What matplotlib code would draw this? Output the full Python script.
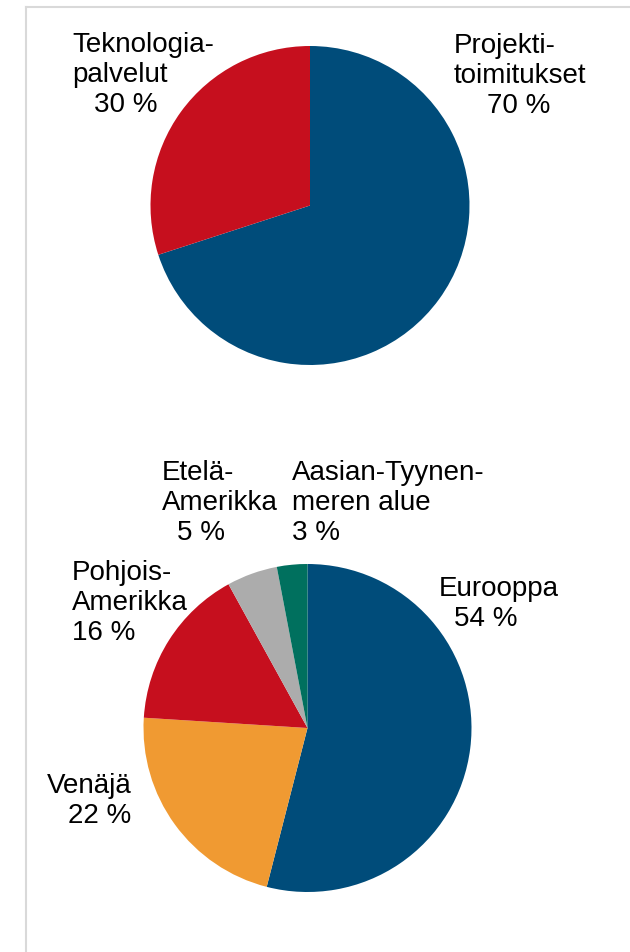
import matplotlib.pyplot as plt
from matplotlib.lines import Line2D

plt.rcParams['font.family'] = ['Liberation Sans', 'DejaVu Sans']

W, H = 630, 953

# top pie: business split
seg_names = ["Projekti-\ntoimitukset", "Teknologia-\npalvelut"]
seg_values = [70, 30]
seg_colors = ["#004c7a", "#c60f1e"]

# bottom pie: geographic split
geo_names = ["Eurooppa", "Venäjä", "Pohjois-\nAmerikka", "Etelä-\nAmerikka",
             "Aasian-Tyynen-\nmeren alue"]
geo_values = [54, 22, 16, 5, 3]
geo_colors = ["#004c7a", "#f09a32", "#c60f1e", "#acacac", "#00705e"]

# label layout in pixels: (x of name, x of percent, baseline of first line)
seg_pos = [(454, 487, 53), (72, 94, 52)]
geo_pos = [(439, 454, 596), (47, 68, 793), (72, 72, 580), (162, 177, 480), (292, 292, 480)]
pitch = 30

fig = plt.figure(figsize=(W / 100, H / 100), dpi=100)
ax = fig.add_axes([0, 0, 1, 1])

ax.pie(seg_values, colors=seg_colors, startangle=90, counterclock=False,
       center=(310, H - 206.5), radius=159.5, wedgeprops=dict(linewidth=0))
ax.pie(geo_values, colors=geo_colors, startangle=90, counterclock=False,
       center=(307.5, H - 729), radius=164, wedgeprops=dict(linewidth=0))

ax.set_xlim(0, W)
ax.set_ylim(0, H)
ax.set_aspect('equal')
ax.axis('off')


def draw_labels(names, values, pos):
    for name, v, (x, xp, y0) in zip(names, values, pos):
        lines = name.split("\n")
        for i, ln in enumerate(lines):
            ax.text(x, H - (y0 + i * pitch), ln, fontsize=20, ha='left', va='baseline',
                    color='black')
        ax.text(xp, H - (y0 + len(lines) * pitch), f"{v} %", fontsize=20,
                ha='left', va='baseline', color='black')


draw_labels(seg_names, seg_values, seg_pos)
draw_labels(geo_names, geo_values, geo_pos)

# light frame on top and left
fig.add_artist(Line2D([26 / W, 1], [1 - 8 / H, 1 - 8 / H], color='#d9d9d9', lw=1.5,
                      transform=fig.transFigure))
fig.add_artist(Line2D([26 / W, 26 / W], [0, 1 - 8 / H], color='#d9d9d9', lw=1.5,
                      transform=fig.transFigure))

fig.savefig('out.png', dpi=100)
